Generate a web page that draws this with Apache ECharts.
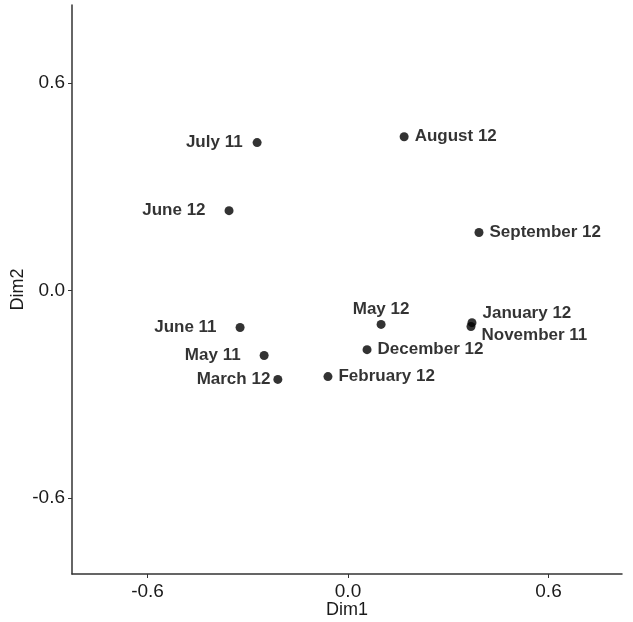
<!DOCTYPE html>
<html>
<head>
<meta charset="utf-8">
<script src="https://cdn.jsdelivr.net/npm/echarts@6/dist/echarts.min.js"></script>
<style>
    html, body { margin: 0; padding: 0; background: #fff; }
    #chart { width: 633px; height: 622px; }
</style>
</head>
<body>
<div id="chart"></div>
<script>
    // 数据
    const months = ['July 11', 'June 12', 'August 12', 'September 12', 'May 12', 'January 12',
        'November 11', 'June 11', 'May 11', 'December 12', 'March 12', 'February 12'];
    const dim1 = [-0.272, -0.356, 0.168, 0.392, 0.099, 0.371, 0.368, -0.323, -0.251, 0.057, -0.210, -0.060];
    const dim2 = [0.428, 0.231, 0.445, 0.168, -0.098, -0.093, -0.104, -0.107, -0.188, -0.171, -0.257, -0.249];
    const tickValues = [-0.6, 0, 0.6];

    // 标签位置
    const labelPos = {
        'July 11': {position: 'left', distance: 10},
        'June 12': {position: 'left', distance: 19},
        'August 12': {position: 'right', distance: 6},
        'September 12': {position: 'right', distance: 6},
        'May 12': {position: 'top', distance: 2},
        'January 12': {position: 'right', distance: 6, offset: [0, -9]},
        'November 11': {position: 'right', distance: 6, offset: [0, 9]},
        'June 11': {position: 'left', distance: 19},
        'May 11': {position: 'left', distance: 19},
        'December 12': {position: 'right', distance: 6},
        'March 12': {position: 'left', distance: 3},
        'February 12': {position: 'right', distance: 6}
    };

    const points = months.map(function (m, i) {
        return {
            name: m,
            value: [dim1[i], dim2[i]],
            label: labelPos[m]
        };
    });

    const font = 'Liberation Sans, Arial, sans-serif';
    const tickText = {color: '#1a1a1a', fontSize: 19, fontFamily: font};
    const titleText = {color: '#1a1a1a', fontSize: 18, fontFamily: font};

    const chart = echarts.init(document.getElementById('chart'));
    chart.setOption({
        animation: false,
        grid: {left: 72, right: 11, top: 5, bottom: 48, containLabel: false, outerBoundsMode: 'none'},
        xAxis: {
            type: 'value',
            min: -0.826,
            max: 0.82,
            name: 'Dim1',
            nameLocation: 'middle',
            nameGap: 27,
            nameMoveOverlap: false,
            nameTextStyle: titleText,
            splitLine: {show: false},
            axisLine: {onZero: false, lineStyle: {color: '#333', width: 1.5}},
            axisTick: {show: true, length: 4, customValues: tickValues, lineStyle: {color: '#333'}},
            axisLabel: Object.assign({customValues: tickValues, margin: 8, formatter: function (v) { return v.toFixed(1); }}, tickText)
        },
        yAxis: {
            type: 'value',
            min: -0.82,
            max: 0.826,
            name: 'Dim2',
            nameLocation: 'middle',
            nameGap: 45,
            nameMoveOverlap: false,
            nameTextStyle: titleText,
            splitLine: {show: false},
            axisLine: {onZero: false, lineStyle: {color: '#333', width: 1.5}},
            axisTick: {show: true, length: 4, customValues: tickValues, lineStyle: {color: '#333'}},
            axisLabel: Object.assign({customValues: tickValues, margin: 7, formatter: function (v) { return v.toFixed(1); }}, tickText)
        },
        series: [{
            type: 'scatter',
            symbolSize: 9,
            itemStyle: {color: '#000'},
            label: {
                show: true,
                formatter: '{b}',
                color: '#000',
                fontSize: 17,
                fontWeight: 'bold',
                fontFamily: font
            },
            data: points
        }]
    });
</script>
</body>
</html>
